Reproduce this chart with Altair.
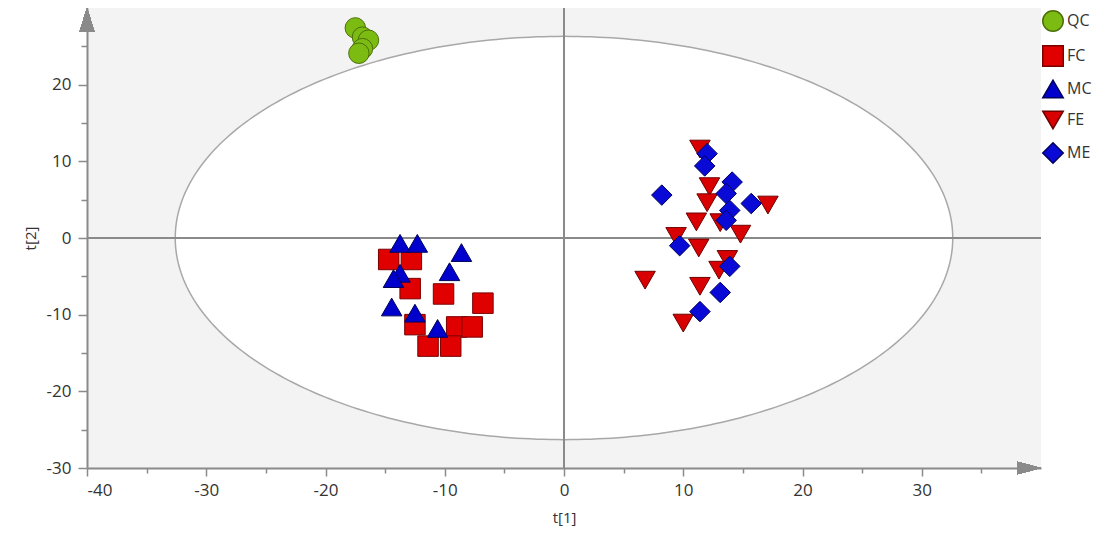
import altair as alt
import numpy as np
import pandas as pd

# ---- data (t[1], t[2] scores) ----
qc_x = [-17.5, -16.9, -16.4, -16.9, -17.2]
qc_y = [27.4, 26.2, 25.8, 24.7, 24.1]

fc_x = [-14.7, -12.8, -12.9, -10.1, -6.8, -12.5, -9.0, -7.7, -11.4, -9.5]
fc_y = [-2.8, -2.8, -6.6, -7.3, -8.5, -11.3, -11.6, -11.6, -14.1, -14.1]

mc_x = [-13.75, -12.3, -8.6, -9.6, -13.75, -14.3, -14.45, -12.5, -10.6]
mc_y = [-0.7, -0.7, -1.9, -4.4, -4.6, -5.3, -9.0, -9.8, -11.8]

fe_x = [11.4, 12.2, 12.0, 17.1, 11.1, 13.1, 9.4, 14.8, 11.3, 13.7, 13.0, 6.8, 11.4, 10.0]
fe_y = [11.6, 6.7, 4.6, 4.3, 2.1, 2.0, 0.2, 0.5, -1.3, -2.8, -4.2, -5.5, -6.3, -11.1]

me_x = [12.0, 11.8, 8.2, 14.1, 13.6, 15.7, 13.9, 13.6, 9.7, 13.9, 13.1, 11.4]
me_y = [11.0, 9.4, 5.6, 7.3, 5.8, 4.5, 3.6, 2.3, -1.0, -3.7, -7.1, -9.6]

groups = ["QC", "FC", "MC", "FE", "ME"]
fills = ["#7cbc12", "#e00000", "#0000cc", "#d80000", "#0a0ad6"]
strokes = ["#4b6e08", "#7a0000", "#00005c", "#6e0000", "#00005c"]
shapes = ["circle", "square", "triangle-up", "triangle-down", "diamond"]
sizes = [420, 420, 520, 520, 650]

# Hotelling T2 ellipse radii
ell_rx = 32.6
ell_ry = 26.3

x_domain = [-40, 40]
y_domain = [-30, 30]

rows = []
for g, xs, ys in [("QC", qc_x, qc_y), ("FC", fc_x, fc_y), ("MC", mc_x, mc_y),
                  ("FE", fe_x, fe_y), ("ME", me_x, me_y)]:
    for a, b in zip(xs, ys):
        rows.append({"group": g, "t1": a, "t2": b})
df = pd.DataFrame(rows)

t = np.linspace(0, np.pi, 181)
ell = pd.DataFrame({
    "ex": ell_rx * np.cos(t),
    "ey": ell_ry * np.sin(t),
    "ey2": -ell_ry * np.sin(t),
})

FONT = "Open Sans"
AX = "#8a8a8a"

xscale = alt.Scale(domain=x_domain, nice=False, zero=False)
yscale = alt.Scale(domain=y_domain, nice=False, zero=False)

LABEL_EXPR = "datum.value % 10 === 0 ? ('' + datum.value) : ''"

x_axis = alt.Axis(
    title="t[1]",
    values=list(range(-40, 40, 5)),
    labelExpr=LABEL_EXPR,
    tickSize={"condition": {"test": "datum.value % 10 === 0", "value": 8}, "value": 5},
    labelOverlap=False,
    grid=False,
    labelPadding=6,
    titlePadding=12,
)
y_axis = alt.Axis(
    title="t[2]",
    values=list(range(-30, 30, 5)),
    labelExpr=LABEL_EXPR,
    tickSize={"condition": {"test": "datum.value % 10 === 0", "value": 9}, "value": 6},
    labelOverlap=False,
    grid=False,
    labelPadding=7,
    titlePadding=8,
)

ellipse = alt.Chart(ell).mark_area(
    fill="white", stroke="#a8a8a8", strokeWidth=1.5, opacity=1
).encode(
    x=alt.X("ex:Q", scale=xscale, axis=x_axis),
    y=alt.Y("ey:Q", scale=yscale, axis=y_axis),
    y2="ey2:Q",
)

zero_v = alt.Chart(df).mark_rule(color=AX, strokeWidth=2).encode(x=alt.datum(0))
zero_h = alt.Chart(df).mark_rule(color=AX, strokeWidth=2).encode(y=alt.datum(0))

points = alt.Chart(df).mark_point(filled=True, opacity=1, strokeWidth=1).encode(
    x=alt.X("t1:Q", scale=xscale),
    y=alt.Y("t2:Q", scale=yscale),
    fill=alt.Fill("group:N", scale=alt.Scale(domain=groups, range=fills),
                  legend=alt.Legend(title=None, orient="none", legendX=955, legendY=2,
                                    labelFont=FONT, labelFontSize=16, labelColor="#333333",
                                    rowPadding=7, labelOffset=3, padding=0)),
    stroke=alt.Stroke("group:N", scale=alt.Scale(domain=groups, range=strokes)),
    shape=alt.Shape("group:N", scale=alt.Scale(domain=groups, range=shapes)),
    size=alt.Size("group:N", scale=alt.Scale(domain=groups, range=sizes)),
    order=alt.Order("idx:Q"),
).transform_window(idx="row_number()")

arrow_up = alt.Chart(df).mark_point(
    shape="M 0 0 L 0.31 1 L -0.31 1 Z", filled=True, size=2304, color=AX, opacity=1
).encode(x=alt.datum(x_domain[0]), y=alt.datum(y_domain[1]))
arrow_right = alt.Chart(df).mark_point(
    shape="M 0 0 L -1 -0.26 L -1 0.26 Z", filled=True, size=2304, color=AX, opacity=1
).encode(x=alt.datum(x_domain[1]), y=alt.datum(y_domain[0]))

chart = alt.layer(ellipse, zero_v, zero_h, points, arrow_up, arrow_right).properties(
    width=954, height=460,
    autosize=alt.AutoSizeParams(type="none"),
    padding={"left": 79, "top": 0, "right": 67, "bottom": 61},
).configure_view(
    fill="#f3f3f3", stroke=None
).configure_axis(
    domainColor=AX, domainWidth=2, tickColor=AX, tickWidth=1.5,
    labelFont=FONT, labelFontSize=17, labelColor="#333333",
    titleFont=FONT, titleFontSize=15, titleColor="#333333", titleFontWeight="normal",
)

chart.save("out.html", embed_options={"renderer": "svg", "actions": False})
